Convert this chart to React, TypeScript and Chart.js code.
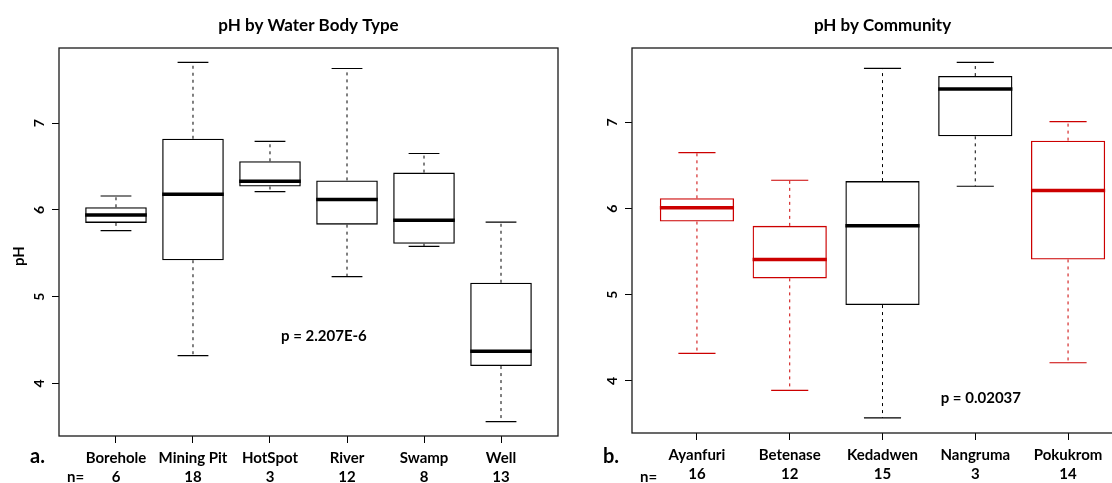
import React, { useEffect, useRef } from "react";
import { Chart, registerables } from "chart.js";

Chart.register(...registerables);

// ---------- data ----------
const waterCategories = ["Borehole", "Mining Pit", "HotSpot", "River", "Swamp", "Well"];
const waterCounts = [6, 18, 3, 12, 8, 13];
const waterLow = [5.76, 4.32, 6.21, 5.23, 5.58, 3.56];
const waterQ1 = [5.85, 5.42, 6.27, 5.83, 5.61, 4.2];
const waterMedian = [5.94, 6.18, 6.33, 6.12, 5.88, 4.37];
const waterQ3 = [6.03, 6.82, 6.56, 6.34, 6.43, 5.16];
const waterHigh = [6.16, 7.7, 6.79, 7.63, 6.65, 5.86];
const waterColors = ["#000000", "#000000", "#000000", "#000000", "#000000", "#000000"];

const communityCategories = ["Ayanfuri", "Betenase", "Kedadwen", "Nangruma", "Pokukrom"];
const communityCounts = [16, 12, 15, 3, 14];
const communityLow = [4.32, 3.89, 3.57, 6.26, 4.21];
const communityQ1 = [5.85, 5.19, 4.88, 6.84, 5.41];
const communityMedian = [6.01, 5.41, 5.8, 7.39, 6.21];
const communityQ3 = [6.12, 5.8, 6.32, 7.54, 6.79];
const communityHigh = [6.65, 6.33, 7.63, 7.7, 7.01];
const communityColors = ["#cc0000", "#cc0000", "#000000", "#000000", "#cc0000"];

const yTickValues = [4, 5, 6, 7];

const FONT = "Lato, 'Liberation Sans', Arial, sans-serif";
const H = 483;

type Panel = {
  categories: string[];
  counts: number[];
  low: number[];
  q1: number[];
  median: number[];
  q3: number[];
  high: number[];
  colors: string[];
  title: string;
  letter: string;
  pText: string;
  pAt: [number, number];
  xMin: number;
  xMax: number;
  yMin: number;
  yMax: number;
  area: { left: number; top: number; right: number; bottom: number };
  canvasLeft: number;
  canvasWidth: number;
  yLabel?: string;
};

const panels: Panel[] = [
  {
    categories: waterCategories,
    counts: waterCounts,
    low: waterLow,
    q1: waterQ1,
    median: waterMedian,
    q3: waterQ3,
    high: waterHigh,
    colors: waterColors,
    title: "pH by Water Body Type",
    letter: "a.",
    pText: "p = 2.207E-6",
    pAt: [3.7, 4.54],
    xMin: 0.26,
    xMax: 6.74,
    yMin: 3.394,
    yMax: 7.866,
    area: { left: 59, top: 48, right: 558, bottom: 436 },
    canvasLeft: 0,
    canvasWidth: 560,
    yLabel: "pH",
  },
  {
    categories: communityCategories,
    counts: communityCounts,
    low: communityLow,
    q1: communityQ1,
    median: communityMedian,
    q3: communityQ3,
    high: communityHigh,
    colors: communityColors,
    title: "pH by Community",
    letter: "b.",
    pText: "p = 0.02037",
    pAt: [4.06, 3.8],
    xMin: 0.3,
    xMax: 5.7,
    yMin: 3.394,
    yMax: 7.866,
    area: { left: 72, top: 48, right: 573, bottom: 433 },
    canvasLeft: 560,
    canvasWidth: 580,
  },
];

function buildConfig(p: Panel): any {
  const boxPlugin = {
    id: "boxDecor",
    afterDatasetsDraw(chart: any) {
      const ctx = chart.ctx;
      const xs = chart.scales.x;
      const ys = chart.scales.y;
      const ca = chart.chartArea;
      ctx.save();
      p.categories.forEach((_, i) => {
        const cx = xs.getPixelForValue(i + 1);
        const capHalf = xs.getPixelForValue(i + 1 + 0.2) - cx;
        const boxHalf = xs.getPixelForValue(i + 1 + 0.4) - cx;
        const col = p.colors[i];
        const yLow = ys.getPixelForValue(p.low[i]);
        const yQ1 = ys.getPixelForValue(p.q1[i]);
        const yMed = ys.getPixelForValue(p.median[i]);
        const yQ3 = ys.getPixelForValue(p.q3[i]);
        const yHigh = ys.getPixelForValue(p.high[i]);
        ctx.strokeStyle = col;
        // whiskers
        ctx.lineWidth = 1;
        ctx.setLineDash([3, 4]);
        ctx.beginPath();
        ctx.moveTo(cx, yQ3);
        ctx.lineTo(cx, yHigh);
        ctx.moveTo(cx, yQ1);
        ctx.lineTo(cx, yLow);
        ctx.stroke();
        ctx.setLineDash([]);
        // caps
        ctx.lineWidth = 1.2;
        ctx.beginPath();
        ctx.moveTo(cx - capHalf, yHigh);
        ctx.lineTo(cx + capHalf, yHigh);
        ctx.moveTo(cx - capHalf, yLow);
        ctx.lineTo(cx + capHalf, yLow);
        ctx.stroke();
        // median
        ctx.lineWidth = 3.5;
        ctx.beginPath();
        ctx.moveTo(cx - boxHalf, yMed);
        ctx.lineTo(cx + boxHalf, yMed);
        ctx.stroke();
      });
      // frame
      ctx.strokeStyle = "#1a1a1a";
      ctx.lineWidth = 1.3;
      ctx.strokeRect(ca.left, ca.top, ca.right - ca.left, ca.bottom - ca.top);

      ctx.fillStyle = "#000";
      // y tick labels (rotated like R)
      ctx.font = `bold 14px ${FONT}`;
      ctx.textAlign = "center";
      ctx.textBaseline = "middle";
      yTickValues.forEach((v) => {
        const y = ys.getPixelForValue(v);
        ctx.save();
        ctx.translate(ca.left - 20, y);
        ctx.rotate(-Math.PI / 2);
        ctx.fillText(String(v), 0, 0);
        ctx.restore();
      });
      if (p.yLabel) {
        ctx.save();
        ctx.font = `bold 15px ${FONT}`;
        ctx.translate(19, 256);
        ctx.rotate(-Math.PI / 2);
        ctx.fillText(p.yLabel, 0, 0);
        ctx.restore();
      }
      // title
      ctx.font = `bold 17px ${FONT}`;
      ctx.textAlign = "center";
      ctx.fillText(p.title, (ca.left + ca.right) / 2, 26);
      // p value
      ctx.font = `bold 15px ${FONT}`;
      ctx.fillText(p.pText, xs.getPixelForValue(p.pAt[0]), ys.getPixelForValue(p.pAt[1]));
      // panel letter and n=
      ctx.textAlign = "left";
      ctx.font = `bold 20px ${FONT}`;
      ctx.fillText(p.letter, ca.left - 29, 457);
      ctx.font = `bold 15px ${FONT}`;
      ctx.fillText("n=", ca.left + 8, 477);
      ctx.restore();
    },
  };

  return {
    type: "bar",
    data: {
      datasets: [
        {
          data: p.categories.map((_, i) => ({ x: i + 1, y: [p.q1[i], p.q3[i]] })),
          backgroundColor: "rgba(255,255,255,0)",
          borderColor: p.colors,
          borderWidth: 1.3,
          borderSkipped: false,
          barPercentage: 0.8,
          categoryPercentage: 1,
        },
      ],
    },
    options: {
      responsive: false,
      animation: false,
      devicePixelRatio: 1,
      layout: {
        padding: { top: p.area.top, right: p.canvasWidth - p.area.right, bottom: 0, left: 0 },
      },
      plugins: { legend: { display: false }, tooltip: { enabled: false }, title: { display: false } },
      scales: {
        x: {
          type: "linear",
          offset: false,
          min: p.xMin,
          max: p.xMax,
          afterBuildTicks: (s: any) => {
            s.ticks = p.categories.map((_, i) => ({ value: i + 1 }));
          },
          afterFit: (s: any) => {
            s.height = H - p.area.bottom;
          },
          ticks: {
            autoSkip: false,
            maxRotation: 0,
            minRotation: 0,
            padding: 5,
            color: "#000",
            font: { family: FONT, size: 15, weight: "bold", lineHeight: 1.3 },
            callback: (v: number) => {
              const i = Math.round(v) - 1;
              return [p.categories[i], String(p.counts[i])];
            },
          },
          grid: {
            display: true,
            offset: false,
            drawOnChartArea: false,
            drawTicks: true,
            tickLength: 7,
            color: "#000",
            tickColor: "#000",
            lineWidth: 1,
          },
          border: { display: false },
        },
        y: {
          type: "linear",
          min: p.yMin,
          max: p.yMax,
          afterBuildTicks: (s: any) => {
            s.ticks = yTickValues.map((v) => ({ value: v }));
          },
          afterFit: (s: any) => {
            s.width = p.area.left;
          },
          ticks: { display: false },
          grid: {
            display: true,
            drawOnChartArea: false,
            drawTicks: true,
            tickLength: 7,
            color: "#000",
            tickColor: "#000",
            lineWidth: 1,
          },
          border: { display: false },
        },
      },
    },
    plugins: [boxPlugin],
  };
}

function BoxPanel({ panel }: { panel: Panel }) {
  const ref = useRef<HTMLCanvasElement>(null);
  useEffect(() => {
    const chart = new Chart(ref.current as HTMLCanvasElement, buildConfig(panel));
    return () => chart.destroy();
  }, [panel]);
  return (
    <canvas
      ref={ref}
      width={panel.canvasWidth}
      height={H}
      style={{ position: "absolute", left: panel.canvasLeft, top: 0, width: panel.canvasWidth, height: H }}
    />
  );
}

export default function App() {
  return (
    <div
      style={{
        position: "fixed",
        left: 0,
        top: 0,
        width: 1112,
        height: H,
        overflow: "hidden",
        background: "#ffffff",
      }}
    >
      {panels.map((p, i) => (
        <BoxPanel key={i} panel={p} />
      ))}
    </div>
  );
}
